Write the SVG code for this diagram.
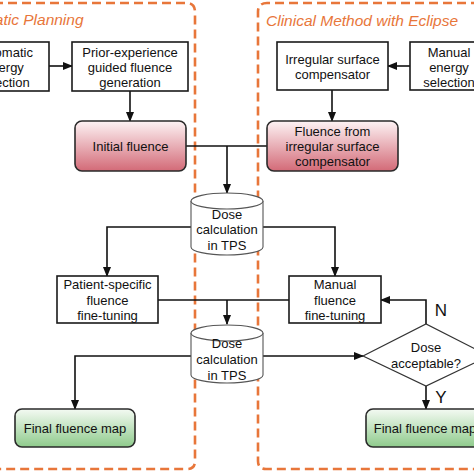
<svg xmlns="http://www.w3.org/2000/svg" width="474" height="474" viewBox="0 0 474 474">
<defs>
<linearGradient id="red" x1="0" y1="0" x2="0" y2="1">
<stop offset="0" stop-color="#fdf3f4"/>
<stop offset="1" stop-color="#d36a77"/>
</linearGradient>
<linearGradient id="green" x1="0" y1="0" x2="0" y2="1">
<stop offset="0" stop-color="#f4faf3"/>
<stop offset="1" stop-color="#8fcb8c"/>
</linearGradient>
<marker id="ah" markerWidth="10" markerHeight="8" refX="9" refY="4" orient="auto" markerUnits="userSpaceOnUse">
<path d="M0,0 L10,4 L0,8 Z" fill="#111"/>
</marker>
<style>
text{font-family:"Liberation Sans",Arial,sans-serif;font-size:13px;fill:#111;text-anchor:middle}
.title{font-size:15.5px;fill:#e8763a;font-style:italic;text-anchor:start}
.lab{font-size:17px}
.box{fill:#fff;stroke:#1a1a1a;stroke-width:1.6}
.rbox{stroke:#2a2a2a;stroke-width:1.6}
.cyl{fill:#fff;stroke:#555;stroke-width:1.1}
.region{fill:none;stroke:#e8763a;stroke-width:2.6;stroke-dasharray:9,5}
.conn{fill:none;stroke:#111;stroke-width:1.6}
</style>
</defs>
<rect width="474" height="474" fill="#fff"/>
<g id="regions">
<path class="region" d="M-20,3 L186,3 Q195,3 195,12 L195,461 Q195,469 187,469 L-20,469"/>
<path class="region" d="M494,3 L267,3 Q258,3 258,12 L258,461 Q258,469 266,469 L494,469"/>
<text class="title" x="-50" y="25">Automatic Planning</text>
<text class="title" x="266" y="26">Clinical Method with Eclipse</text>
</g>
<g id="connectors">
<path class="conn" d="M49,66 L72,66" marker-end="url(#ah)"/>
<path class="conn" d="M130,91 L130,121" marker-end="url(#ah)"/>
<path class="conn" d="M410,66 L388,66" marker-end="url(#ah)"/>
<path class="conn" d="M332,90 L332,121" marker-end="url(#ah)"/>
<path class="conn" d="M186,146 L267,146"/>
<path class="conn" d="M227,146 L227,193" marker-end="url(#ah)"/>
<path class="conn" d="M191,227 L107,227 L107,276" marker-end="url(#ah)"/>
<path class="conn" d="M263,227 L335,227 L335,276" marker-end="url(#ah)"/>
<path class="conn" d="M158,300 L289,300"/>
<path class="conn" d="M227,300 L227,324" marker-end="url(#ah)"/>
<path class="conn" d="M191,356 L75,356 L75,409" marker-end="url(#ah)"/>
<path class="conn" d="M263,356 L363,356" marker-end="url(#ah)"/>
<path class="conn" d="M426,324 L426,300 L381,300" marker-end="url(#ah)"/>
<path class="conn" d="M426,386 L426,409" marker-end="url(#ah)"/>
<text class="lab" x="441" y="316">N</text>
<text class="lab" x="441" y="403">Y</text>
</g>
<g id="auto-energy">
<rect class="box" x="-41" y="42" width="90" height="49"/>
<text x="4" y="57">Automatic</text>
<text x="4" y="72">energy</text>
<text x="4" y="87">selection</text>
</g>
<g id="prior-experience">
<rect class="box" x="72" y="42" width="116" height="49"/>
<text x="130" y="57">Prior-experience</text>
<text x="130" y="72">guided fluence</text>
<text x="130" y="87">generation</text>
</g>
<g id="initial-fluence">
<rect class="rbox" x="75" y="121" width="111" height="50" rx="7" fill="url(#red)"/>
<text x="130.5" y="150.5">Initial fluence</text>
</g>
<g id="irregular">
<rect class="box" x="277" y="42" width="111" height="48"/>
<text x="332.5" y="63.5">Irregular surface</text>
<text x="332.5" y="78.5">compensator</text>
</g>
<g id="manual-energy">
<rect class="box" x="410" y="42" width="80" height="48"/>
<text x="449" y="56.5">Manual</text>
<text x="449" y="71.5">energy</text>
<text x="449" y="86.5">selection</text>
</g>
<g id="fluence-irregular">
<rect class="rbox" x="267" y="121" width="131" height="50" rx="7" fill="url(#red)"/>
<text x="332.5" y="135.5">Fluence from</text>
<text x="332.5" y="150.5">irregular surface</text>
<text x="332.5" y="166">compensator</text>
</g>
<g id="dose-calc-1">
<path class="cyl" d="M191,201 A36,8 0 0,1 263,201 L263,247 A36,8 0 0,1 191,247 Z"/>
<path class="cyl" d="M191,201 A36,8 0 0,0 263,201"/>
<text x="227" y="218.5">Dose</text>
<text x="227" y="234">calculation</text>
<text x="227" y="249.5">in TPS</text>
</g>
<g id="patient-specific">
<rect class="box" x="57" y="276" width="101" height="47"/>
<text x="107.5" y="289">Patient-specific</text>
<text x="107.5" y="304.5">fluence</text>
<text x="107.5" y="320">fine-tuning</text>
</g>
<g id="manual-fluence">
<rect class="box" x="289" y="276" width="92" height="47"/>
<text x="335" y="289">Manual</text>
<text x="335" y="304.5">fluence</text>
<text x="335" y="320">fine-tuning</text>
</g>
<g id="dose-calc-2">
<path class="cyl" d="M191,333 A36,8 0 0,1 263,333 L263,375 A36,8 0 0,1 191,375 Z"/>
<path class="cyl" d="M191,333 A36,8 0 0,0 263,333"/>
<text x="227" y="348">Dose</text>
<text x="227" y="364">calculation</text>
<text x="227" y="380">in TPS</text>
</g>
<g id="dose-acceptable">
<path class="box" d="M363,356 L426,324 L489,356 L426,386 Z" style="stroke-width:1.2;stroke:#333"/>
<text x="426" y="351.5">Dose</text>
<text x="426" y="368">acceptable?</text>
</g>
<g id="final-left">
<rect class="rbox" x="15" y="409" width="120" height="38" rx="7" fill="url(#green)"/>
<text x="75" y="433">Final fluence map</text>
</g>
<g id="final-right">
<rect class="rbox" x="366" y="409" width="120" height="38" rx="7" fill="url(#green)"/>
<text x="425" y="433">Final fluence map</text>
</g>
</svg>
